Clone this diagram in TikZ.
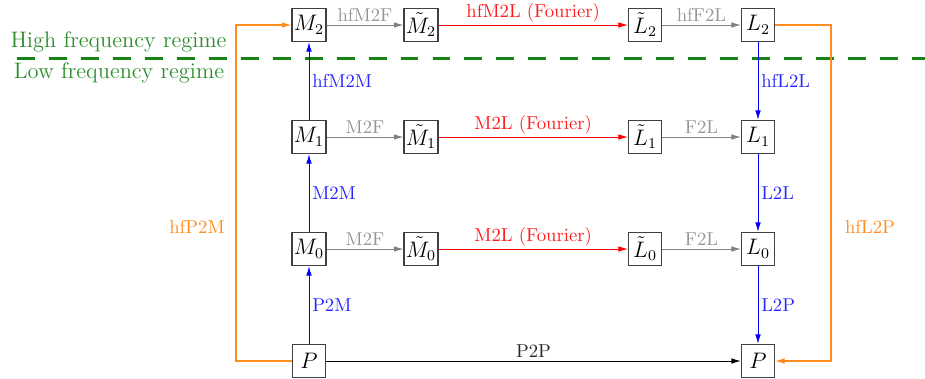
\documentclass[tikz,border=0pt]{standalone}
\usetikzlibrary{arrows.meta}
\definecolor{myorange}{RGB}{255,140,30}
\definecolor{mygreen}{RGB}{20,130,20}
\definecolor{mylabgray}{RGB}{150,150,150}
\begin{document}
\begin{tikzpicture}[x=0.535pt,y=-0.535pt,
  box/.style={draw=black!75,line width=0.7pt,minimum width=17.7pt,minimum height=17.7pt,inner sep=1pt,font=\large},
  arr/.style={line width=0.48pt,-{Latex[length=5pt,width=3pt]}},
  lab/.style={inner sep=1.5pt,font=\normalsize},
  gline/.style={arr,color=gray},
  rline/.style={arr,color=red},
  bline/.style={arr,color=blue},
  oline/.style={arr,color=myorange,line width=0.55pt},
  glab/.style={lab,text=mylabgray},
  rlab/.style={lab,text=red!90},
  blab/.style={lab,text=blue!85},
  olab/.style={lab,text=myorange},
  regime/.style={font=\large,text=mygreen!90}]
\useasboundingbox (0,0) rectangle (925,378);
% nodes
\node[box] (M2) at (309,25) {$M_2$};
\node[box] (tM2) at (421,25) {$\tilde{M}_2$};
\node[box] (tL2) at (645,25) {$\tilde{L}_2$};
\node[box] (L2) at (758,25) {$L_2$};
\node[box] (M1) at (309,137) {$M_1$};
\node[box] (tM1) at (421,137) {$\tilde{M}_1$};
\node[box] (tL1) at (645,137) {$\tilde{L}_1$};
\node[box] (L1) at (758,137) {$L_1$};
\node[box] (M0) at (309,249) {$M_0$};
\node[box] (tM0) at (421,249) {$\tilde{M}_0$};
\node[box] (tL0) at (645,249) {$\tilde{L}_0$};
\node[box] (L0) at (758,249) {$L_0$};
\node[box] (P) at (309,361) {$P$};
\node[box] (Pr) at (758,361) {$P$};
% regime
\draw[mygreen,line width=1.3pt,dash pattern=on 9.6pt off 7.5pt] (17,58.5) -- (925,58.5);
\node[regime] (hi) at (118.5,42) {High frequency regime};
\node[regime] (lo) at (119,73) {Low frequency regime};
% row 2
\draw[gline] (M2) -- node[glab,above] {hfM2F} (tM2);
\draw[rline] (tM2) -- node[rlab,above] {hfM2L (Fourier)} (tL2);
\draw[gline] (tL2) -- node[glab,above] {hfF2L} (L2);
% row 1
\draw[gline] (M1) -- node[glab,above] {M2F} (tM1);
\draw[rline] (tM1) -- node[rlab,above] {M2L (Fourier)} (tL1);
\draw[gline] (tL1) -- node[glab,above] {F2L} (L1);
% row 0
\draw[gline] (M0) -- node[glab,above] {M2F} (tM0);
\draw[rline] (tM0) -- node[rlab,above] {M2L (Fourier)} (tL0);
\draw[gline] (tL0) -- node[glab,above] {F2L} (L0);
% vertical
\draw[bline] (M1) -- node[blab,right] {hfM2M} (M2);
\draw[bline] (L2) -- node[blab,right] {hfL2L} (L1);
\draw[bline] (M0) -- node[blab,right] {M2M} (M1);
\draw[bline] (L1) -- node[blab,right] {L2L} (L0);
\draw[bline] (P) -- node[blab,right] {P2M} (M0);
\draw[bline] (L0) -- node[blab,right] {L2P} (Pr);
% P2P
\draw[arr,color=black] (P) -- node[lab,above,text=black!85] {P2P} (Pr);
% orange
\coordinate (olb) at (236,361);
\coordinate (olt) at (236,25);
\coordinate (ort) at (831,25);
\coordinate (orb) at (831,361);
\draw[oline] (P.west) -- (olb) -- (olt) -- (M2.west);
\draw[oline] (L2.east) -- (ort) -- (orb) -- (Pr.east);
\node[olab] (hfp2m) at (197,227) {hfP2M};
\node[olab] (hfl2p) at (870,227) {hfL2P};
\end{tikzpicture}
\end{document}
